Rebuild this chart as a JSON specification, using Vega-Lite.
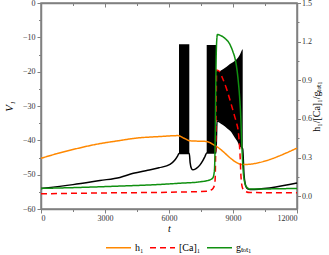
{
  "$schema": "https://vega.github.io/schema/vega-lite/v6.json",
  "width": 256,
  "height": 206,
  "autosize": {"type": "none"},
  "padding": {"left": 41, "top": 3, "right": 32, "bottom": 46},
  "config": {
    "font": "Liberation Serif",
    "view": {"stroke": "#808080", "strokeWidth": 1.5},
    "axis": {
      "grid": false,
      "domainColor": "#808080",
      "domainWidth": 1.5,
      "tickColor": "#808080",
      "tickWidth": 1,
      "labelFont": "Liberation Serif",
      "labelFontSize": 8,
      "labelColor": "#333333",
      "labelOverlap": false,
      "titleFont": "Liberation Serif",
      "titleColor": "#000000",
      "titleFontWeight": "normal"
    }
  },
  "datasets": {
    "V": [
      {"t": 0, "v": -54.0}, {"t": 1500, "v": -52.9}, {"t": 2766, "v": -51.7}, {"t": 3700, "v": -50.8},
      {"t": 4327, "v": -49.6}, {"t": 5000, "v": -48.7}, {"t": 5531, "v": -48.0}, {"t": 6047, "v": -47.0},
      {"t": 6266, "v": -45.8}, {"t": 6400, "v": -44.6}, {"t": 6469, "v": -43.8}, {"t": 6952, "v": -43.8},
      {"t": 6990, "v": -46.5}, {"t": 7060, "v": -48.3}, {"t": 7125, "v": -48.6}, {"t": 7250, "v": -48.3},
      {"t": 7437, "v": -47.3}, {"t": 7578, "v": -46.0}, {"t": 7687, "v": -44.7}, {"t": 7767, "v": -43.7},
      {"t": 8203, "v": -43.7}, {"t": 8250, "v": -34.4}, {"t": 8531, "v": -35.3}, {"t": 8780, "v": -36.5},
      {"t": 8953, "v": -37.5}, {"t": 9094, "v": -38.9}, {"t": 9249, "v": -40.4}, {"t": 9328, "v": -41.5},
      {"t": 9455, "v": -42.5}, {"t": 9516, "v": -50.0}, {"t": 9610, "v": -53.5}, {"t": 9703, "v": -54.2},
      {"t": 9797, "v": -54.3}, {"t": 12000, "v": -52.4}
    ],
    "band": [
      {"seg": "a", "t": 6469, "lo": -43.8, "hi": -12.0}, {"seg": "a", "t": 6952, "lo": -43.8, "hi": -12.0},
      {"seg": "b", "t": 7767, "lo": -43.7, "hi": -12.2}, {"seg": "b", "t": 8203, "lo": -43.7, "hi": -12.2},
      {"seg": "c", "t": 8203, "lo": -34.0, "hi": -19.8}, {"seg": "c", "t": 8391, "lo": -34.6, "hi": -19.8},
      {"seg": "c", "t": 8531, "lo": -35.3, "hi": -19.3}, {"seg": "c", "t": 8700, "lo": -36.1, "hi": -18.6},
      {"seg": "c", "t": 8859, "lo": -36.9, "hi": -17.8}, {"seg": "c", "t": 9016, "lo": -38.0, "hi": -17.2},
      {"seg": "c", "t": 9174, "lo": -39.6, "hi": -16.4}, {"seg": "c", "t": 9249, "lo": -40.4, "hi": -15.8},
      {"seg": "c", "t": 9328, "lo": -41.5, "hi": -15.0}, {"seg": "c", "t": 9408, "lo": -42.0, "hi": -13.8},
      {"seg": "c", "t": 9455, "lo": -42.5, "hi": -13.4}
    ],
    "R": [
      {"s": "h₁", "t": 0, "r": 0.294}, {"s": "h₁", "t": 750, "r": 0.33}, {"s": "h₁", "t": 1500, "r": 0.362},
      {"s": "h₁", "t": 2766, "r": 0.408}, {"s": "h₁", "t": 3703, "r": 0.432}, {"s": "h₁", "t": 4327, "r": 0.448},
      {"s": "h₁", "t": 5578, "r": 0.463}, {"s": "h₁", "t": 6422, "r": 0.47}, {"s": "h₁", "t": 6700, "r": 0.45},
      {"s": "h₁", "t": 6984, "r": 0.43}, {"s": "h₁", "t": 7767, "r": 0.424}, {"s": "h₁", "t": 8180, "r": 0.39},
      {"s": "h₁", "t": 9470, "r": 0.245}, {"s": "h₁", "t": 12000, "r": 0.373},

      {"s": "[Ca]₁", "t": 0, "r": 0.018}, {"s": "[Ca]₁", "t": 3000, "r": 0.025}, {"s": "[Ca]₁", "t": 6000, "r": 0.03},
      {"s": "[Ca]₁", "t": 7800, "r": 0.038}, {"s": "[Ca]₁", "t": 8000, "r": 0.05}, {"s": "[Ca]₁", "t": 8100, "r": 0.07},
      {"s": "[Ca]₁", "t": 8160, "r": 0.12}, {"s": "[Ca]₁", "t": 8200, "r": 0.5}, {"s": "[Ca]₁", "t": 8234, "r": 0.98},
      {"s": "[Ca]₁", "t": 8358, "r": 0.97}, {"s": "[Ca]₁", "t": 8500, "r": 0.92}, {"s": "[Ca]₁", "t": 8705, "r": 0.83},
      {"s": "[Ca]₁", "t": 8939, "r": 0.7}, {"s": "[Ca]₁", "t": 9094, "r": 0.61}, {"s": "[Ca]₁", "t": 9180, "r": 0.56},
      {"s": "[Ca]₁", "t": 9249, "r": 0.5}, {"s": "[Ca]₁", "t": 9300, "r": 0.4}, {"s": "[Ca]₁", "t": 9328, "r": 0.33},
      {"s": "[Ca]₁", "t": 9375, "r": 0.15}, {"s": "[Ca]₁", "t": 9420, "r": 0.08}, {"s": "[Ca]₁", "t": 9470, "r": 0.055},
      {"s": "[Ca]₁", "t": 9600, "r": 0.035}, {"s": "[Ca]₁", "t": 9800, "r": 0.028}, {"s": "[Ca]₁", "t": 12000, "r": 0.026},

      {"s": "gₜₒₜ₁", "t": 0, "r": 0.06}, {"s": "gₜₒₜ₁", "t": 1500, "r": 0.066}, {"s": "gₜₒₜ₁", "t": 3700, "r": 0.078},
      {"s": "gₜₒₜ₁", "t": 5500, "r": 0.09}, {"s": "gₜₒₜ₁", "t": 6500, "r": 0.1}, {"s": "gₜₒₜ₁", "t": 7500, "r": 0.112},
      {"s": "gₜₒₜ₁", "t": 7900, "r": 0.125}, {"s": "gₜₒₜ₁", "t": 8050, "r": 0.14}, {"s": "gₜₒₜ₁", "t": 8130, "r": 0.2},
      {"s": "gₜₒₜ₁", "t": 8170, "r": 0.5}, {"s": "gₜₒₜ₁", "t": 8203, "r": 1.0}, {"s": "gₜₒₜ₁", "t": 8234, "r": 1.2},
      {"s": "gₜₒₜ₁", "t": 8270, "r": 1.255}, {"s": "gₜₒₜ₁", "t": 8450, "r": 1.245}, {"s": "gₜₒₜ₁", "t": 8625, "r": 1.225},
      {"s": "gₜₒₜ₁", "t": 8859, "r": 1.177}, {"s": "gₜₒₜ₁", "t": 9000, "r": 1.12}, {"s": "gₜₒₜ₁", "t": 9094, "r": 1.07},
      {"s": "gₜₒₜ₁", "t": 9180, "r": 0.99}, {"s": "gₜₒₜ₁", "t": 9249, "r": 0.89}, {"s": "gₜₒₜ₁", "t": 9310, "r": 0.77},
      {"s": "gₜₒₜ₁", "t": 9361, "r": 0.63}, {"s": "gₜₒₜ₁", "t": 9408, "r": 0.42}, {"s": "gₜₒₜ₁", "t": 9455, "r": 0.25},
      {"s": "gₜₒₜ₁", "t": 9530, "r": 0.12}, {"s": "gₜₒₜ₁", "t": 9640, "r": 0.07}, {"s": "gₜₒₜ₁", "t": 9797, "r": 0.055},
      {"s": "gₜₒₜ₁", "t": 12000, "r": 0.06}
    ]
  },
  "layer": [
    {
      "layer": [
        {
          "data": {"name": "V"},
          "mark": {"type": "line", "color": "#000000", "strokeWidth": 1.5, "interpolate": "monotone"},
          "encoding": {
            "x": {
              "field": "t", "type": "quantitative",
              "scale": {"domain": [0, 12000], "nice": false},
              "axis": {
                "orient": "bottom",
                "values": [0, 1500, 3000, 4500, 6000, 7500, 9000, 10500, 12000],
                "tickCount": 30,
                "labelExpr": "datum.value % 3000 === 0 ? format(datum.value, 'd') : ''",
                "tickSize": {"condition": {"test": "datum.value % 3000 === 0", "value": 4}, "value": 2.5},
                "labelPadding": 1,
                "labelOverlap": false,
                "title": "t",
                "titleFontStyle": "italic",
                "titleFontSize": 10,
                "titlePadding": 1
              }
            },
            "y": {
              "field": "v", "type": "quantitative",
              "scale": {"domain": [-60, 0], "nice": false},
              "axis": {
                "orient": "left",
                "values": [-60, -55, -50, -45, -40, -35, -30, -25, -20, -15, -10, -5, 0],
                "tickCount": 30,
                "labelExpr": "abs(datum.value) % 10 == 0 ? format(datum.value, 'd') : ''",
                "tickSize": {"condition": {"test": "abs(datum.value) % 10 == 0", "value": 4}, "value": 2.5},
                "labelPadding": 2,
                "labelOverlap": false,
                "title": "V₁",
                "titleFontStyle": "italic",
                "titleFontSize": 11,
                "titlePadding": 8
              }
            }
          }
        },
        {
          "data": {"name": "band"},
          "mark": {"type": "area", "color": "#000000", "opacity": 1},
          "encoding": {
            "x": {"field": "t", "type": "quantitative"},
            "y": {"field": "lo", "type": "quantitative"},
            "y2": {"field": "hi"},
            "detail": {"field": "seg"}
          }
        }
      ]
    },
    {
      "data": {"name": "R"},
      "mark": {"type": "line", "strokeWidth": 1.5, "interpolate": "monotone"},
      "encoding": {
        "x": {
          "field": "t", "type": "quantitative",
          "axis": {
            "orient": "top",
            "values": [0, 1500, 3000, 4500, 6000, 7500, 9000, 10500, 12000],
            "tickCount": 30,
            "labels": false,
            "title": null,
            "tickSize": {"condition": {"test": "datum.value % 3000 === 0", "value": -4}, "value": -2.5}
          }
        },
        "y": {
          "field": "r", "type": "quantitative",
          "scale": {"domain": [-0.1, 1.5], "nice": false},
          "axis": {
            "orient": "right",
            "values": [0, 0.15, 0.3, 0.45, 0.6, 0.75, 0.9, 1.05, 1.2, 1.35, 1.5],
            "tickCount": 30,
            "labelExpr": "(round(datum.value * 100) % 30 === 0) ? format(datum.value, '.1f') : ''",
            "tickSize": {"condition": {"test": "round(datum.value * 100) % 30 === 0", "value": 3.5}, "value": 2},
            "labelPadding": 1,
            "labelOverlap": false,
            "title": "h₁/[Ca]₁/gₜₒₜ₁",
            "titleAngle": 270,
            "titleFontSize": 10,
            "titlePadding": 10
          }
        },
        "color": {
          "field": "s", "type": "nominal",
          "scale": {"domain": ["h₁", "[Ca]₁", "gₜₒₜ₁"], "range": ["#ff8800", "#ff0000", "#109010"]},
          "legend": {
            "title": null, "orient": "none", "legendX": 64, "legendY": 231, "direction": "horizontal",
            "symbolType": "stroke", "symbolSize": 625, "symbolStrokeWidth": 1.5,
            "labelFont": "Liberation Serif", "labelFontSize": 10, "labelColor": "#000000",
            "labelOffset": 3, "columnPadding": 3
          }
        },
        "strokeDash": {
          "field": "s", "type": "nominal",
          "scale": {"domain": ["h₁", "[Ca]₁", "gₜₒₜ₁"], "range": [[1, 0], [6, 4], [1, 0]]},
          "legend": {
            "title": null, "orient": "none", "legendX": 64, "legendY": 231, "direction": "horizontal",
            "symbolType": "stroke", "symbolSize": 625, "symbolStrokeWidth": 1.5,
            "labelFont": "Liberation Serif", "labelFontSize": 10, "labelColor": "#000000",
            "labelOffset": 3, "columnPadding": 3
          }
        }
      }
    }
  ],
  "resolve": {"scale": {"y": "independent"}, "axis": {"x": "independent"}}
}
